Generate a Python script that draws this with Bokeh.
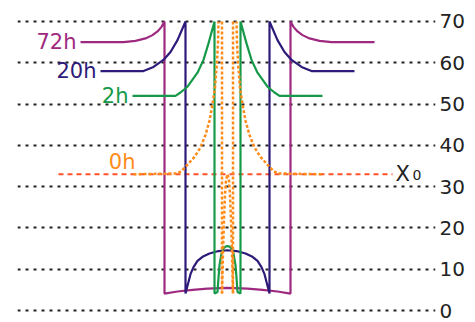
from bokeh.plotting import figure
from bokeh.models import Range1d, FixedTicker, ColumnDataSource
from bokeh.core.properties import value
from bokeh.embed import file_html
from bokeh.resources import INLINE

# ---- data (x = offset from the well centre, y = level) ----
y_ticks = [0, 10, 20, 30, 40, 50, 60, 70]
x0_level = 33
x0_span = [-169, 165]

# left halves of each profile (mirrored for the right half)
h72_x = [-147, -104, -92, -82, -75, -70, -66, -63, -63, -50, -35, -20, 0]
h72_y = [65, 65, 65.3, 65.9, 66.7, 67.6, 68.7, 70, 4.1, 4.6, 5.0, 5.3, 5.5]

h20_x = [-127, -84, -74, -64, -57, -50, -42, -42, -40, -37, -34, -30, -25, -18, -9, 0]
h20_y = [58, 58, 59, 60.7, 62.6, 65.5, 70, 4.1, 6.0, 8.8, 10.5, 12.0, 13.0, 13.8, 14.4, 14.6]

h2_x = [-95, -52, -47, -40, -30, -24, -19, -13, -13, -10, -9, -8, -6, -4, -2, 0]
h2_y = [52, 52, 52.8, 54.2, 57.6, 60.7, 64.7, 70, 4.1, 4.5, 8.0, 11.0, 13.8, 15.0, 15.5, 15.6]

h0_curve_x = [-94, -50, -46, -40, -33, -27, -22, -18, -15, -12.5, -10.5, -9.5, -9]
h0_curve_y = [33, 33.2, 33.8, 35.3, 37.2, 39.5, 42.5, 46, 50, 54, 60, 65, 70]
h0_wall_x = [-5.5, -5.5]
h0_wall_y = [70, 4.1]
h0_peak_x = [-5.5, -4.5, -3.5, -2.5, -1.5, 0]
h0_peak_y = [4.1, 14, 22, 28, 31.5, 33]

labels = ["72h", "20h", "2h", "0h"]
colors = ["#9E2A80", "#2E1A78", "#169A4A", "#FF8C1A"]


def mirror(xs, ys):
    fx = list(xs) + [-x for x in reversed(xs[:-1])]
    fy = list(ys) + list(reversed(ys[:-1]))
    return fx, fy


p = figure(width=475, height=322, output_backend="svg", toolbar_location=None,
           x_range=Range1d(-210, 208), y_range=Range1d(-2.906, 75.086),
           x_axis_location=None, y_axis_location="right",
           min_border_left=17, min_border_right=40, min_border_top=0, min_border_bottom=0)
p.outline_line_color = None
p.background_fill_color = "white"
p.border_fill_color = "white"
p.xgrid.visible = False

ax = p.yaxis[0]
ax.ticker = FixedTicker(ticks=y_ticks)
ax.axis_line_color = None
ax.major_tick_line_color = None
ax.minor_tick_line_color = None
ax.major_tick_out = 0
ax.major_tick_in = 0
ax.major_label_standoff = 4
ax.major_label_text_font = "DejaVu Sans"
ax.major_label_text_font_size = "20px"
ax.major_label_text_color = "#222222"

p.ygrid.ticker = FixedTicker(ticks=y_ticks)
p.ygrid.grid_line_color = "#222222"
p.ygrid.grid_line_dash = "3 5"
p.ygrid.grid_line_width = 2

# X0 reference line
p.line(x0_span, [x0_level, x0_level], line_color="#FF5028", line_width=2.2, line_dash="5 4")

# profiles
for (xs, ys), c in zip([(h72_x, h72_y), (h20_x, h20_y), (h2_x, h2_y)], colors[:3]):
    fx, fy = mirror(xs, ys)
    p.line(fx, fy, line_color=c, line_width=2.2)

dot = "3 2"
oc = colors[3]
ow = 2.5
p.line(h0_curve_x, h0_curve_y, line_color=oc, line_width=ow, line_dash=dot)
p.line([-x for x in h0_curve_x], h0_curve_y, line_color=oc, line_width=ow, line_dash=dot)
p.line(h0_wall_x, h0_wall_y, line_color=oc, line_width=ow, line_dash=dot)
p.line([-x for x in h0_wall_x], h0_wall_y, line_color=oc, line_width=ow, line_dash=dot)
fx, fy = mirror(h0_peak_x, h0_peak_y)
p.line(fx, fy, line_color=oc, line_width=ow, line_dash=dot)

# labels at the start of each plateau
lab_x = [h72_x[0], h20_x[0], h2_x[0], h0_curve_x[0]]
lab_y = [h72_y[0], h20_y[0], h2_y[0], h0_curve_y[0]]
src = ColumnDataSource(dict(x=lab_x[:3], y=lab_y[:3], t=labels[:3], c=colors[:3]))
p.text(x="x", y="y", text="t", text_color="c", source=src, x_offset=-4,
       text_align="right", text_baseline="middle",
       text_font=value("DejaVu Sans"), text_font_size="21px")
p.text(x=[lab_x[3]], y=[lab_y[3]], text=[labels[3]], text_color=oc, x_offset=2, y_offset=-12,
       text_align="right", text_baseline="middle",
       text_font=value("DejaVu Sans"), text_font_size="21px")

# X0 label
p.text(x=[x0_span[1]], y=[x0_level], text=["X"], text_color="#222222", x_offset=3,
       text_align="left", text_baseline="middle",
       text_font=value("DejaVu Sans"), text_font_size="21px")
p.text(x=[x0_span[1]], y=[x0_level], text=["0"], text_color="#222222", x_offset=20, y_offset=1,
       text_align="left", text_baseline="middle",
       text_font=value("DejaVu Sans"), text_font_size="14px")

open("out.html", "w").write(file_html(p, INLINE))
